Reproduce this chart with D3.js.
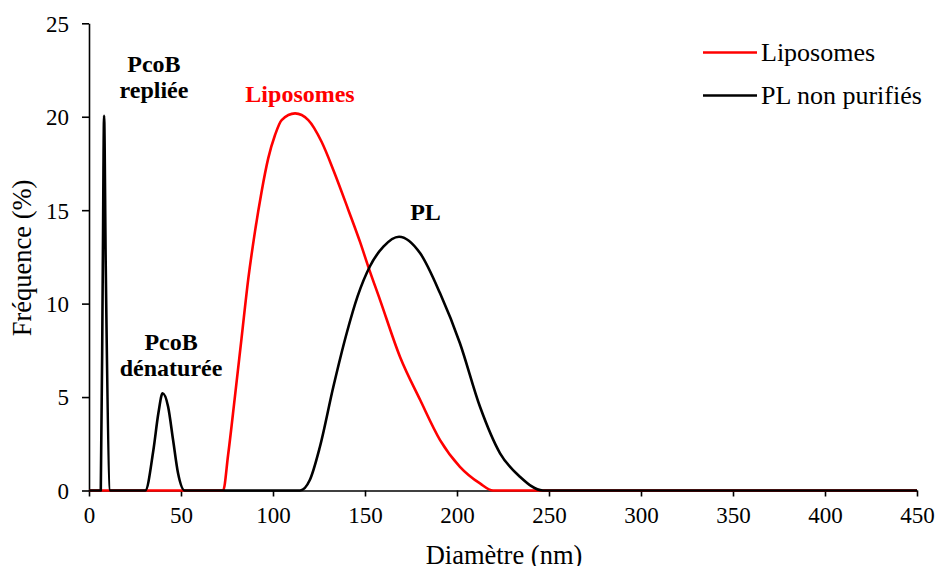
<!DOCTYPE html>
<html>
<head>
<meta charset="utf-8">
<script src="https://cdn.jsdelivr.net/npm/d3@7"></script>
<style>
  html, body { margin: 0; padding: 0; background: #fff; }
  svg, svg text { font-family: "Liberation Serif", "Times New Roman", serif; }
  svg { display: block; }
</style>
</head>
<body>
<svg id="chart" width="936" height="566"></svg>
<script>
// Size distribution (DLS), frequency in % versus diameter in nm
const lipoDiam = [0, 20, 40, 60, 72.9, 75.6, 79.2, 82.9, 86.6, 90.2, 93.8, 97.4, 101.1, 104.7, 112, 119.2, 126.4, 133, 141, 147.3, 151.8, 158.2, 169, 180, 190.8, 201.6, 212.5, 219.6, 240, 270, 300, 350, 400, 450];
const lipoFreq = [0, 0, 0, 0, 0, 1.9, 4.93, 8.14, 11.35, 13.85, 15.99, 17.77, 19.02, 19.82, 20.18, 19.82, 18.66, 17.1, 15.0, 13.3, 11.97, 10.19, 7.16, 4.84, 2.7, 1.27, 0.38, 0, 0, 0, 0, 0, 0, 0];

const plDiam = [0, 6.4, 7.5, 8.2, 9.1, 11.6, 20, 30.6, 35, 37.7, 40, 43, 45.7, 48.4, 52, 80, 114.7, 120, 125.5, 132.8, 140, 146, 152.7, 160, 168.5, 180, 190.8, 201.6, 212.5, 223.4, 234.2, 246.7, 270, 300, 350, 400, 450];
const plFreq = [0, 0, 12, 20.05, 12, 0, 0, 0, 2.17, 4.13, 5.2, 4.48, 2.7, 0.92, 0, 0, 0, 0.56, 2.34, 5.55, 8.4, 10.4, 12.0, 13.05, 13.58, 12.69, 10.55, 7.88, 4.48, 1.99, 0.74, 0, 0, 0, 0, 0, 0];

const xTicks = [0, 50, 100, 150, 200, 250, 300, 350, 400, 450];
const yTicks = [0, 5, 10, 15, 20, 25];

const seriesNames = ["Liposomes", "PL non purifiés"];
const seriesColors = ["#ff0000", "#000000"];

const peakLabelText = [["PcoB", "repliée"], ["PcoB", "dénaturée"], ["Liposomes"], ["PL"]];
const peakLabelColors = ["#000000", "#000000", "#ff0000", "#000000"];

const serif = "'Liberation Serif', 'Times New Roman', serif";
const svg = d3.select("#chart");
const x = d3.scaleLinear().domain([0, 450]).range([89, 917]);
const y = d3.scaleLinear().domain([0, 25]).range([490.5, 23.3]);

// axes
const xAxis = d3.axisBottom(x).tickValues(xTicks).tickSize(6).tickSizeOuter(0);
const yAxis = d3.axisLeft(y).tickValues(yTicks).tickSize(7).tickSizeOuter(0);

const gx = svg.append("g").attr("transform", `translate(0,${y(0)})`).call(xAxis);
const gy = svg.append("g").attr("transform", `translate(${x(0)},0)`).call(yAxis);
[gx, gy].forEach(g => {
  g.attr("font-family", null).attr("font-size", null);
  g.select(".domain").attr("stroke", "#000").attr("stroke-width", 1.6);
  g.selectAll(".tick line").attr("stroke", "#000").attr("stroke-width", 1.6);
  g.selectAll(".tick text")
    .style("font-family", serif)
    .style("font-size", "23px").attr("fill", "#000");
});
gx.selectAll(".tick text").attr("dy", "0.71em").attr("y", 16);
gy.selectAll(".tick text").attr("x", -20).attr("dy", "0.34em");

// axis titles
svg.append("text")
  .attr("x", 504).attr("y", 564)
  .attr("text-anchor", "middle")
  .style("font-family", serif).style("font-size", "26.5px")
  .text("Diamètre (nm)");
svg.append("text")
  .attr("transform", "translate(31,258) rotate(-90)")
  .attr("text-anchor", "middle")
  .style("font-family", serif).style("font-size", "26.5px")
  .text("Fréquence (%)");

// curves
const line = d3.line()
  .x(d => x(d[0])).y(d => y(d[1]))
  .curve(d3.curveMonotoneX);

const series = [
  d3.zip(lipoDiam, lipoFreq),
  d3.zip(plDiam, plFreq)
];
series.forEach((pts, i) => {
  svg.append("path")
    .datum(pts)
    .attr("d", line)
    .attr("fill", "none")
    .attr("stroke", seriesColors[i])
    .attr("stroke-width", 2.6)
    .attr("stroke-linejoin", "round");
});

// peak annotations: centre and first baseline in data units
const labelAnchors = [[35.3, 22.39], [44.6, 7.52], [114.7, 20.79], [182.9, 14.47]];
peakLabelText.forEach((lines, i) => {
  const t = svg.append("text")
    .attr("text-anchor", "middle")
    .style("font-family", serif).style("font-size", "24px")
    .style("font-weight", "bold")
    .attr("fill", peakLabelColors[i]);
  lines.forEach((ln, k) => {
    t.append("tspan")
      .attr("x", x(labelAnchors[i][0]))
      .attr("y", y(labelAnchors[i][1]) + k * 26)
      .text(ln);
  });
});

// legend
const legend = svg.append("g");
seriesNames.forEach((name, i) => {
  const ly = 52.5 + i * 43;
  legend.append("line")
    .attr("x1", 703).attr("x2", 757)
    .attr("y1", ly).attr("y2", ly)
    .attr("stroke", seriesColors[i]).attr("stroke-width", 2.6);
  legend.append("text")
    .attr("x", 761).attr("y", ly).attr("dy", "0.34em")
    .style("font-family", serif).style("font-size", "26px")
    .attr("fill", "#000")
    .text(name);
});
</script>
</body>
</html>
